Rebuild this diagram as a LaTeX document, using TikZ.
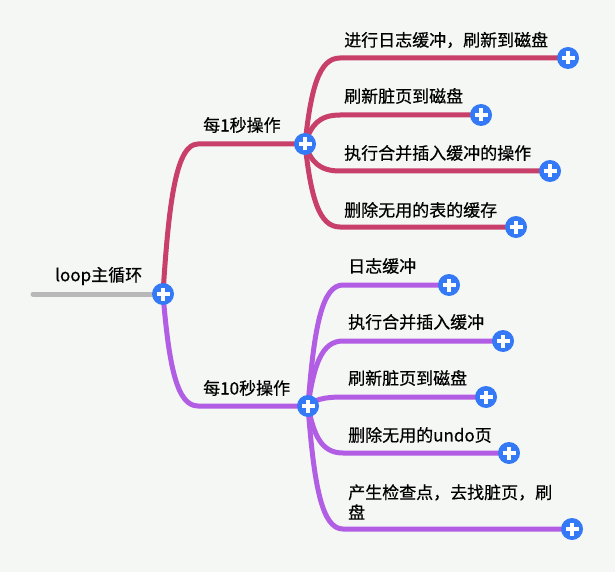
\documentclass[tikz,border=0pt]{standalone}
\usepackage{fontspec}
\setmainfont{Noto Sans CJK SC}[BoldFont=Noto Sans CJK SC, BoldFeatures={FakeBold=0.5}]
\usetikzlibrary{calc}

\definecolor{bgcol}{HTML}{F5F7F5}
\definecolor{secred}{HTML}{C8406A}
\definecolor{tenpurple}{HTML}{B15DE4}
\definecolor{stemgrey}{HTML}{B8B8B8}
\definecolor{plusblue}{HTML}{3479F6}

\tikzset{
  lbl/.style={anchor=west, inner sep=0pt, font=\fontsize{17}{20}\selectfont\bfseries},
  plusbtn/.style={circle, fill=plusblue, inner sep=0pt, minimum size=22pt,
    path picture={\draw[white, line width=3.5pt]
      ([xshift=-6.5pt]path picture bounding box.center) -- ([xshift=6.5pt]path picture bounding box.center)
      ([yshift=-6.5pt]path picture bounding box.center) -- ([yshift=6.5pt]path picture bounding box.center);}},
  limb/.style={line width=5pt, line cap=round, line join=round},
  mapbend/.style={to path={.. controls ($(\tikztostart)!0.65!(\tikztostart|-\tikztotarget)+(6,0)$)
      and ($(\tikztostart|-\tikztotarget)+(14,0)$) .. ($(\tikztostart|-\tikztotarget)+(35,0)$) -- (\tikztotarget)}}
}

\begin{document}
\begin{tikzpicture}[x=1pt, y=-1pt]
  \fill[bgcol] (0,0) rectangle (615,572);
  \useasboundingbox (0,0) rectangle (615,572);

  % hubs
  \coordinate (stem) at (33,294);
  \coordinate (root) at (163,294);
  \coordinate (sec1) at (305,144);
  \coordinate (sec10) at (308,406);

  % leaf ends
  \coordinate (a1) at (568,58);
  \coordinate (a2) at (481,115);
  \coordinate (a3) at (550,171);
  \coordinate (a4) at (516,227);
  \coordinate (b1) at (449,285);
  \coordinate (b2) at (503,341);
  \coordinate (b3) at (486,397);
  \coordinate (b4) at (509,453);
  \coordinate (b5) at (572,529);

  % branches
  \draw[limb, stemgrey] (stem) -- (root);
  \draw[limb, secred] (root) to[mapbend] (sec1);
  \draw[limb, tenpurple] (root) to[mapbend] (sec10);
  \foreach \leaf in {a1,a2,a3,a4}
    \draw[limb, secred] (sec1) to[mapbend] (\leaf);
  \foreach \leaf in {b1,b2,b3,b4,b5}
    \draw[limb, tenpurple] (sec10) to[mapbend] (\leaf);

  % buttons
  \foreach \p in {root,sec1,sec10,a1,a2,a3,a4,b1,b2,b3,b4,b5}
    \node[plusbtn] (btn\p) at (\p) {};

  % labels
  \node[lbl] (troot) at (55,276) {loop主循环};
  \node[lbl] (tsec1) at (203,125) {每1秒操作};
  \node[lbl] (tsec10) at (203,388) {每10秒操作};

  \node[lbl] (ta1) at (344,40) {进行日志缓冲，刷新到磁盘};
  \node[lbl] (ta2) at (344,96) {刷新脏页到磁盘};
  \node[lbl] (ta3) at (344,153) {执行合并插入缓冲的操作};
  \node[lbl] (ta4) at (344,210) {删除无用的表的缓存};

  \node[lbl] (tb1) at (348,266) {日志缓冲};
  \node[lbl] (tb2) at (348,322) {执行合并插入缓冲};
  \node[lbl] (tb3) at (348,378) {刷新脏页到磁盘};
  \node[lbl] (tb4) at (348,435) {删除无用的undo页};
  \node[lbl, align=left] (tb5) at (348,502) {产生检查点，去找脏页，刷\\盘};
\end{tikzpicture}
\end{document}
